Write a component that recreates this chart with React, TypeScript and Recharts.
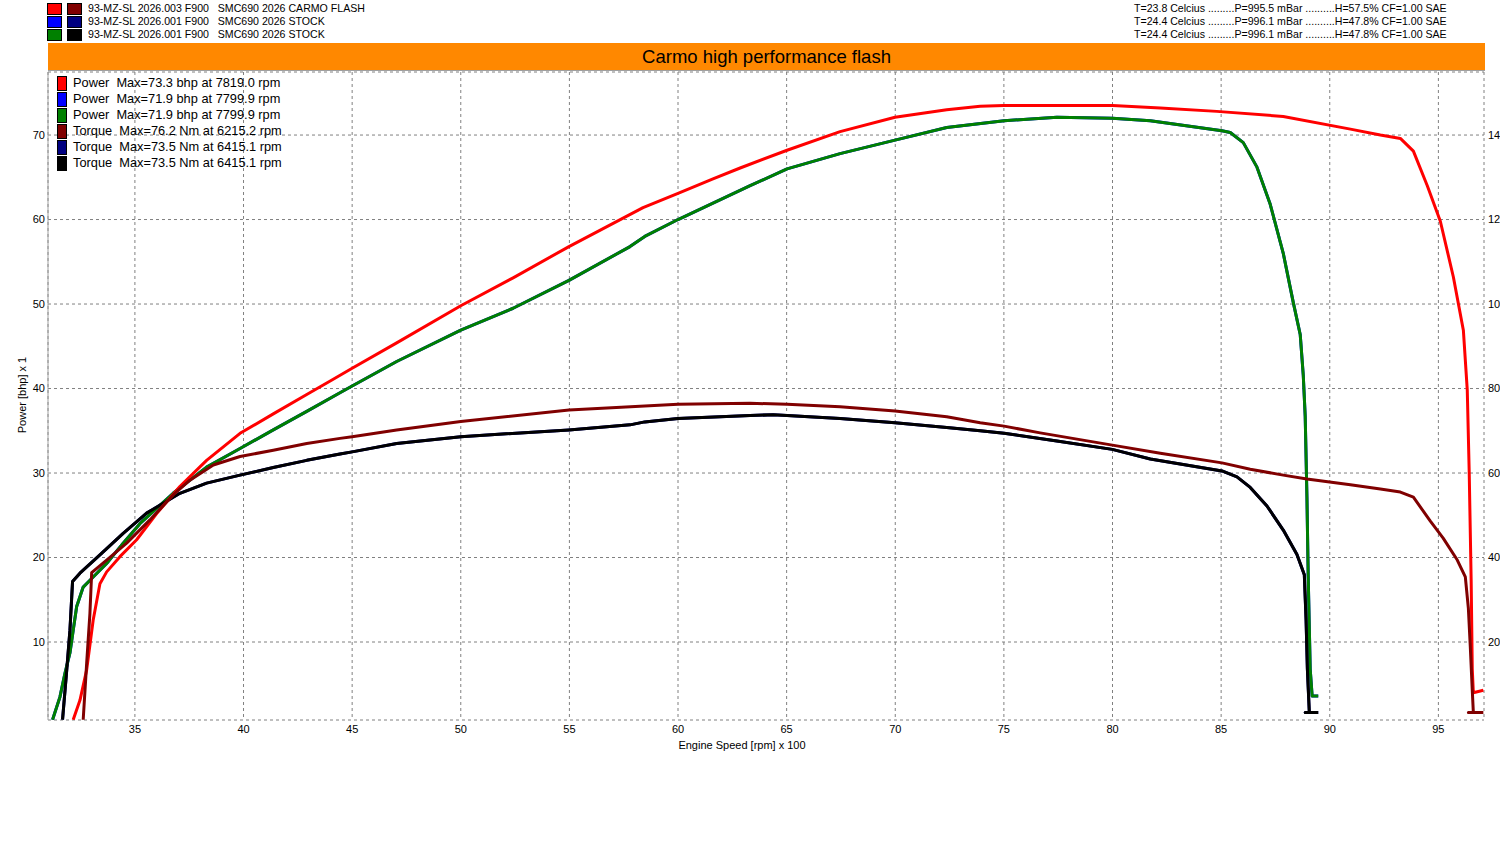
import React from 'react';
import { LineChart, Line, XAxis, YAxis, CartesianGrid } from 'recharts';

type Pt = [number, number];

// rpm x 100, bhp
const carmoPower: Pt[] = [
  [32.16, 0.8], [32.47, 3.1], [32.78, 6.7], [33.08, 12.6], [33.39, 16.9], [33.7, 18.3],
  [34.31, 20.1], [35.08, 22.1], [36.0, 25.2], [37.07, 28.4], [38.3, 31.5], [39.84, 34.7],
  [41.37, 37.0], [42.91, 39.3], [44.13, 41.1], [45.0, 42.4], [47.05, 45.4], [50.0, 49.8],
  [52.41, 53.1], [54.98, 56.8], [58.39, 61.4], [60.0, 63.1], [61.61, 64.8], [62.86, 66.1],
  [65.02, 68.2], [67.46, 70.4], [69.99, 72.1], [72.37, 73.0], [73.91, 73.4], [75.0, 73.5],
  [78.2, 73.5], [80.0, 73.5], [82.2, 73.2], [84.8, 72.8], [87.86, 72.2], [90.95, 70.7],
  [92.33, 70.0], [93.25, 69.6], [93.85, 68.1], [94.49, 64.0], [95.09, 59.8], [95.69, 53.2],
  [96.15, 46.9], [96.33, 39.8], [96.42, 30.0], [96.51, 17.1], [96.56, 6.8], [96.61, 4.0],
  [97.07, 4.3],
];

const stockPower: Pt[] = [
  [31.21, 0.8], [31.55, 3.5], [31.78, 6.3], [32.01, 8.7], [32.16, 11.4], [32.32, 14.2],
  [32.62, 16.5], [33.08, 17.7], [33.7, 19.3], [34.46, 21.7], [35.23, 24.0], [36.76, 27.6],
  [38.3, 30.7], [39.84, 32.9], [41.37, 35.1], [42.91, 37.3], [44.44, 39.5], [45.0, 40.3],
  [47.05, 43.2], [50.0, 46.9], [52.41, 49.5], [54.98, 52.8], [57.79, 56.8], [58.47, 58.0],
  [60.0, 60.0], [63.32, 64.0], [65.02, 66.0], [67.46, 67.8], [69.99, 69.4], [72.37, 70.9],
  [75.01, 71.7], [77.44, 72.1], [79.99, 72.0], [81.74, 71.7], [85.04, 70.5], [85.42, 70.3],
  [86.02, 69.1], [86.65, 66.2], [87.26, 61.8], [87.86, 56.0], [88.32, 50.2], [88.64, 46.4],
  [88.78, 41.6], [88.87, 36.7], [88.95, 27.1], [89.01, 17.5], [89.1, 6.8], [89.19, 3.6],
  [89.47, 3.6],
];

// rpm x 100, Nm
const carmoTorque: Pt[] = [
  [32.62, 1.6], [32.78, 15.0], [32.93, 26.8], [33.01, 36.4], [33.7, 39.4], [34.62, 43.4],
  [35.69, 48.9], [36.76, 54.8], [37.53, 58.3], [38.61, 61.9], [39.84, 63.9], [41.37, 65.4],
  [42.91, 67.0], [44.44, 68.2], [45.0, 68.6], [47.05, 70.2], [50.0, 72.2], [54.98, 74.9],
  [60.0, 76.3], [63.32, 76.5], [65.02, 76.3], [67.46, 75.7], [69.99, 74.7], [72.37, 73.3],
  [73.91, 71.9], [75.01, 71.1], [76.67, 69.5], [79.99, 66.6], [82.2, 64.7], [85.04, 62.4],
  [86.34, 60.9], [87.86, 59.5], [88.95, 58.6], [90.95, 57.2], [92.33, 56.2], [93.25, 55.5],
  [93.85, 54.3], [94.63, 48.6], [95.22, 44.6], [95.87, 39.4], [96.24, 35.4], [96.38, 28.0],
  [96.47, 18.8], [96.56, 8.6], [96.61, 3.3], [96.38, 3.3], [97.07, 3.3],
];

const stockTorque: Pt[] = [
  [31.67, 1.6], [31.85, 12.6], [32.01, 22.8], [32.13, 34.3], [32.47, 36.3], [33.39, 40.6],
  [34.46, 45.7], [35.54, 50.5], [37.07, 55.2], [38.3, 57.6], [39.84, 59.5], [41.37, 61.3],
  [42.91, 63.0], [44.44, 64.5], [45.0, 65.0], [47.05, 67.0], [50.0, 68.6], [54.98, 70.2],
  [57.79, 71.4], [58.47, 72.1], [60.0, 72.9], [63.32, 73.6], [64.38, 73.8], [65.02, 73.6],
  [67.46, 72.9], [69.99, 71.9], [72.37, 70.8], [73.91, 70.0], [75.01, 69.4], [77.44, 67.6],
  [79.99, 65.6], [81.74, 63.3], [85.04, 60.5], [85.73, 59.1], [86.34, 56.6], [87.11, 52.2],
  [87.86, 46.5], [88.49, 40.7], [88.83, 35.9], [88.91, 25.2], [88.97, 13.6], [89.06, 3.3],
  [88.87, 3.3], [89.47, 3.3],
];

const xTicks = [35, 40, 45, 50, 55, 60, 65, 70, 75, 80, 85, 90, 95];
const xMinorTicks = [
  36, 37, 38, 39, 41, 42, 43, 44, 46, 47, 48, 49, 51, 52, 53, 54, 56, 57, 58, 59, 61, 62, 63, 64,
  66, 67, 68, 69, 71, 72, 73, 74, 76, 77, 78, 79, 81, 82, 83, 84, 86, 87, 88, 89, 91, 92, 93, 94,
  96, 97,
];
const powerTicks = [10, 20, 30, 40, 50, 60, 70];
const powerMinorTicks = [
  10, 12, 14, 16, 18, 20, 22, 24, 26, 28, 30, 32, 34, 36, 38, 40, 42, 44, 46, 48, 50, 52, 54, 56,
  58, 60, 62, 64, 66, 68, 70, 72, 74, 76,
];
const torqueTicks = [20, 40, 60, 80, 100, 120, 140];
const torqueMinorTicks = [
  20, 24, 28, 32, 36, 40, 44, 48, 52, 56, 60, 64, 68, 72, 76, 80, 84, 88, 92, 96, 100, 104, 108,
  112, 116, 120, 124, 128, 132, 136, 140, 144, 148, 152,
];

const runs = [
  {
    colors: ['#ff0000', '#800000'],
    name: '93-MZ-SL 2026.003 F900   SMC690 2026 CARMO FLASH',
    weather: 'T=23.8 Celcius .........P=995.5 mBar ..........H=57.5% CF=1.00 SAE',
  },
  {
    colors: ['#0000ff', '#000080'],
    name: '93-MZ-SL 2026.001 F900   SMC690 2026 STOCK',
    weather: 'T=24.4 Celcius .........P=996.1 mBar ..........H=47.8% CF=1.00 SAE',
  },
  {
    colors: ['#008000', '#000000'],
    name: '93-MZ-SL 2026.001 F900   SMC690 2026 STOCK',
    weather: 'T=24.4 Celcius .........P=996.1 mBar ..........H=47.8% CF=1.00 SAE',
  },
];

const legendItems = [
  { color: '#ff0000', text: 'Power  Max=73.3 bhp at 7819.0 rpm' },
  { color: '#0000ff', text: 'Power  Max=71.9 bhp at 7799.9 rpm' },
  { color: '#008000', text: 'Power  Max=71.9 bhp at 7799.9 rpm' },
  { color: '#800000', text: 'Torque  Max=76.2 Nm at 6215.2 rpm' },
  { color: '#000080', text: 'Torque  Max=73.5 Nm at 6415.1 rpm' },
  { color: '#000000', text: 'Torque  Max=73.5 Nm at 6415.1 rpm' },
];

const FONT = '"Liberation Sans", Arial, sans-serif';
const X_DOMAIN: [number, number] = [31, 97.1];
const POWER_DOMAIN: [number, number] = [0.77, 77.46];
const TORQUE_DOMAIN: [number, number] = [1.54, 154.92];
const MINOR = '#d00000';

const rows = (pts: Pt[]) => pts.map(([rpm, v]) => ({ rpm, v }));

const tickStyle = { fontSize: 11, fill: '#000', fontFamily: FONT };

// small red marks drawn by the minor axes
const BottomMinor = ({ x, y }: any) => <line x1={x} x2={x} y1={y + 2} y2={y + 4} stroke={MINOR} strokeWidth={1} />;
const LeftMinor = ({ x, y }: any) => <line x1={x} x2={x + 3} y1={y} y2={y} stroke={MINOR} strokeWidth={1} />;
const RightMinor = ({ x, y }: any) => <line x1={x} x2={x + 3} y1={y} y2={y} stroke={MINOR} strokeWidth={1} />;

const series = [
  { data: stockPower, axis: 'power', color: '#0000ff' },
  { data: stockTorque, axis: 'torque', color: '#000080' },
  { data: stockPower, axis: 'power', color: '#008000' },
  { data: stockTorque, axis: 'torque', color: '#000000' },
  { data: carmoPower, axis: 'power', color: '#ff0000' },
  { data: carmoTorque, axis: 'torque', color: '#800000' },
];

export default function App() {
  return (
    <div style={{ position: 'absolute', left: 0, top: 0, width: 1500, height: 850, background: '#fff', fontFamily: FONT, overflow: 'hidden' }}>
      <LineChart width={1500} height={850} margin={{ top: 72, right: 0, bottom: 100, left: 0 }}>
        <XAxis
          xAxisId="xm"
          dataKey="rpm"
          type="number"
          domain={X_DOMAIN}
          allowDataOverflow
          ticks={xMinorTicks}
          tick={<BottomMinor />}
          tickLine={false}
          tickSize={0}
          tickMargin={0}
          axisLine={false}
          interval={0}
          height={0}
        />
        <XAxis
          xAxisId="x"
          dataKey="rpm"
          type="number"
          domain={X_DOMAIN}
          allowDataOverflow
          ticks={xTicks}
          tick={tickStyle}
          tickLine={false}
          tickSize={0}
          tickMargin={5}
          axisLine={false}
          interval={0}
          height={30}
        />
        <YAxis
          yAxisId="pm"
          type="number"
          domain={POWER_DOMAIN}
          allowDataOverflow
          ticks={powerMinorTicks}
          tick={<LeftMinor />}
          tickLine={false}
          tickSize={0}
          tickMargin={0}
          mirror
          axisLine={false}
          interval={0}
          width={0}
        />
        <YAxis
          yAxisId="power"
          type="number"
          domain={POWER_DOMAIN}
          allowDataOverflow
          ticks={powerTicks}
          tick={tickStyle}
          tickLine={false}
          tickSize={0}
          tickMargin={3}
          axisLine={{ stroke: '#a0a0a0' }}
          interval={0}
          width={48}
        />
        <YAxis
          yAxisId="tm"
          orientation="right"
          type="number"
          domain={TORQUE_DOMAIN}
          allowDataOverflow
          ticks={torqueMinorTicks}
          tick={<RightMinor />}
          tickLine={false}
          tickSize={0}
          tickMargin={0}
          axisLine={false}
          interval={0}
          width={0}
        />
        <YAxis
          yAxisId="torque"
          orientation="right"
          type="number"
          domain={TORQUE_DOMAIN}
          allowDataOverflow
          ticks={torqueTicks}
          tick={{ ...tickStyle, textAnchor: 'start' }}
          tickLine={false}
          tickSize={0}
          tickMargin={4}
          axisLine={false}
          interval={0}
          width={16}
        />
        <CartesianGrid xAxisId="x" yAxisId="power" stroke="#808080" strokeDasharray="3 3" />
        {series.map((s, i) => (
          <Line
            key={i}
            data={rows(s.data)}
            dataKey="v"
            xAxisId="x"
            yAxisId={s.axis}
            type="linear"
            stroke={s.color}
            strokeWidth={3}
            strokeLinejoin="round"
            dot={false}
            activeDot={false}
            isAnimationActive={false}
          />
        ))}
      </LineChart>

      {runs.map((r, i) => (
        <React.Fragment key={i}>
          {r.colors.map((c, j) => (
            <div
              key={j}
              style={{ position: 'absolute', left: 47 + j * 20, top: 3 + i * 13, width: 13, height: 10, background: c, border: '1px solid #000' }}
            />
          ))}
          <div style={{ position: 'absolute', left: 88, top: 1 + i * 13, fontSize: 10.6, lineHeight: '14px', whiteSpace: 'pre', color: '#000' }}>
            {r.name}
          </div>
          <div style={{ position: 'absolute', left: 1134, top: 1 + i * 13, fontSize: 10.6, lineHeight: '14px', whiteSpace: 'pre', color: '#000' }}>
            {r.weather}
          </div>
        </React.Fragment>
      ))}

      <div
        style={{
          position: 'absolute', left: 48, top: 43, width: 1437, height: 28, background: '#ff8800',
          borderBottom: '1px solid #a0a0a0', display: 'flex', alignItems: 'center', justifyContent: 'center',
          fontSize: 18.5, color: '#000', paddingTop: 1, boxSizing: 'border-box',
        }}
      >
        Carmo high performance flash
      </div>

      {legendItems.map((l, i) => (
        <React.Fragment key={i}>
          <div style={{ position: 'absolute', left: 57, top: 76 + i * 16, width: 8, height: 13, background: l.color, border: '1px solid #000' }} />
          <div style={{ position: 'absolute', left: 73, top: 75 + i * 16, fontSize: 12.8, lineHeight: '16px', whiteSpace: 'pre', color: '#000' }}>
            {l.text}
          </div>
        </React.Fragment>
      ))}

      <div
        style={{
          position: 'absolute', left: 22, top: 395, fontSize: 11, whiteSpace: 'pre', color: '#000',
          transform: 'translate(-50%, -50%) rotate(-90deg)',
        }}
      >
        Power [bhp] x 1
      </div>
      <div style={{ position: 'absolute', left: 742, top: 745, fontSize: 11, whiteSpace: 'pre', color: '#000', transform: 'translate(-50%, -50%)' }}>
        Engine Speed [rpm] x 100
      </div>
    </div>
  );
}
